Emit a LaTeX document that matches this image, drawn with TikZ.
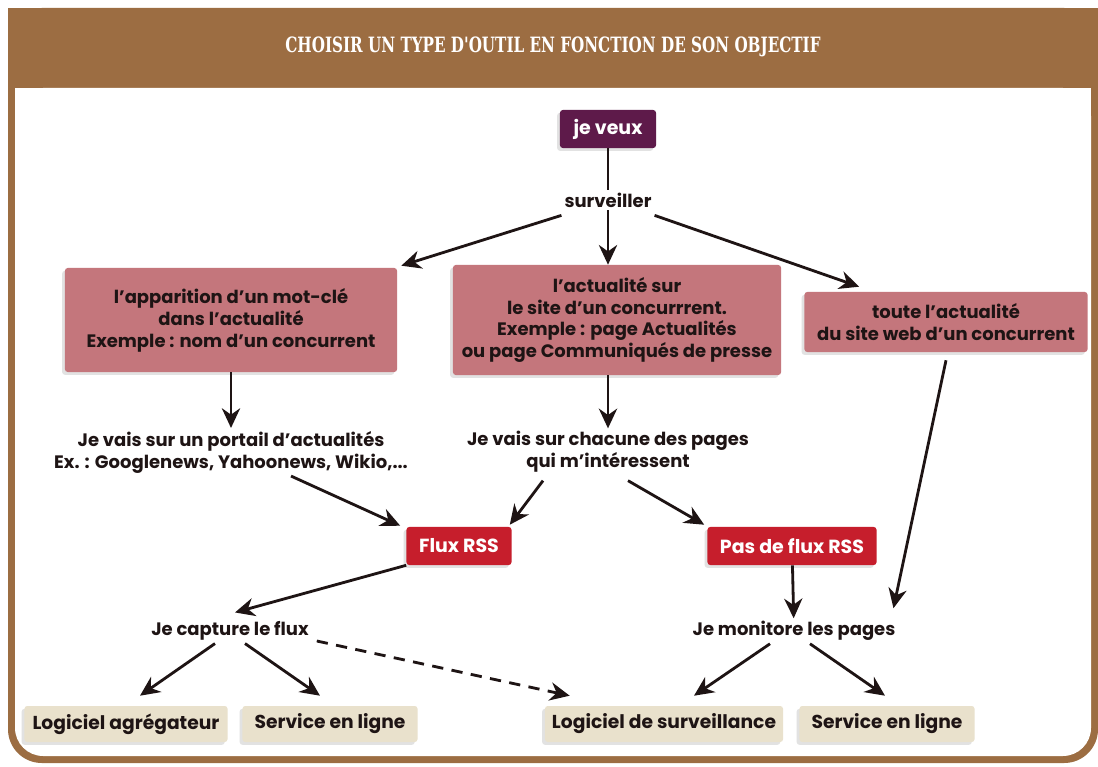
\documentclass[tikz,border=0pt]{standalone}
\usepackage{fontspec}
\setmainfont{Poppins}
\newfontfamily\titrefont{DejaVu Serif}
\usetikzlibrary{arrows.meta,shadows,calc}

\definecolor{cadre}{RGB}{156,109,66}
\definecolor{violet}{RGB}{94,26,74}
\definecolor{rose}{RGB}{196,118,124}
\definecolor{rouge}{RGB}{198,30,44}
\definecolor{beige}{RGB}{233,225,204}
\definecolor{encre}{RGB}{30,20,20}

\tikzset{
  boite/.style={rounded corners=2pt, align=center, inner sep=2pt,
    drop shadow={shadow xshift=-2pt, shadow yshift=-2pt, fill=gray!45}},
  envie/.style={boite, fill=violet, text=white, font=\bfseries\fontsize{13.5}{16}\selectfont,
    minimum width=2.4cm, minimum height=0.95cm},
  cible/.style={boite, fill=rose, text=encre, font=\bfseries\fontsize{12.8}{15.6}\selectfont,
    minimum width=8.3cm},
  flux/.style={boite, fill=rouge, text=white, font=\bfseries\fontsize{13.5}{16}\selectfont,
    minimum height=0.95cm},
  outil/.style={boite, fill=beige, text=encre, font=\bfseries\fontsize{13.3}{16}\selectfont,
    minimum height=0.9cm},
  etape/.style={align=center, text=encre, inner sep=2pt, font=\bfseries\fontsize{12.8}{15.6}\selectfont},
  fleche/.style={-{Stealth[length=14pt,width=13pt]}, line width=2pt, encre},
}

\begin{document}
\begin{tikzpicture}[x=0.025cm,y=-0.025cm]
\useasboundingbox (0,0) rectangle (1098,767);

% cadre et bandeau
\fill[cadre, rounded corners=24] (8,8) -- (1098,8) -- (1098,763) -- (8,763) -- cycle;
\fill[cadre] (8,8) rectangle (1098,60);
\fill[white, rounded corners=20] (15,88) -- (1091,88) -- (1091,756) -- (15,756) -- cycle;
\fill[white] (15,88) rectangle (1091,120);
\node[text=white] (titre) at (553,47) {\scalebox{0.72}[1]{\titrefont\bfseries\fontsize{15}{16}\selectfont CHOISIR UN TYPE D'OUTIL EN FONCTION DE SON OBJECTIF}};

% haut
\node[envie] (veux) at (608,129) {je veux};
\node[etape] (surv) at (608,200) {surveiller};

\node[cible, minimum height=2.6cm] (motcle) at (231,320) {l'apparition d'un mot-clé\\dans l'actualité\\Exemple : nom d'un concurrent};
\node[cible, minimum width=8.2cm, minimum height=2.75cm] (page) at (617,320) {l'actualité sur\\le site d'un concurrrent.\\Exemple : page Actualités\\ou page Communiqués de presse};
\node[cible, minimum width=7.075cm, minimum height=1.5cm] (site) at (946,322) {toute l'actualité\\du site web d'un concurrent};

% milieu
\node[etape] (portail) at (231,452) {Je vais sur un portail d'actualités\\Ex. : Googlenews, Yahoonews, Wikio,...};
\node[etape] (chacune) at (608,452) {Je vais sur chacune des pages\\qui m'intéressent};

\node[flux, minimum width=2.625cm] (rss) at (459,546) {Flux RSS};
\node[flux, minimum width=4.225cm] (norss) at (792,546) {Pas de flux RSS};

\node[etape] (capture) at (230,631) {Je capture le flux};
\node[etape] (monitore) at (794,631) {Je monitore les pages};

% outils
\node[outil, minimum width=5.075cm] (agreg) at (126,724) {Logiciel agrégateur};
\node[outil, minimum width=4.375cm] (servA) at (330,724) {Service en ligne};
\node[outil, minimum width=5.95cm] (logsurv) at (664,724) {Logiciel de surveillance};
\node[outil, minimum width=4.375cm] (servB) at (887,724) {Service en ligne};

% liaisons
\draw[line width=2pt, encre] (veux) -- (surv);
\draw[fleche] ($(surv.south west)+(0,5)$) -- ($(motcle.north east)+(4,-2)$);
\draw[fleche] (surv) -- (surv |- page.north);
\draw[fleche] ($(surv.south east)+(0,5)$) -- ($(site.north west)+(55,-5)$);

\draw[fleche] (motcle) -- (portail);
\draw[fleche] (page.south -| chacune) -- (chacune);
\draw[fleche] ($(site.south)+(0,8)$) -- ($(monitore.north east)+(-5,-10)$);

\draw[fleche] ($(portail.south)+(60,0)$) -- ($(rss.north west)+(-6,-1)$);
\draw[fleche] ($(chacune.south)+(-65,5)$) -- ($(rss.north east)+(-2,-2)$);
\draw[fleche] ($(chacune.south)+(20,5)$) -- ($(norss.north west)+(-3,-2)$);

\draw[fleche] (rss.south west) -- ($(capture.north)+(5,-6)$);
\draw[fleche] (norss) -- (monitore);

\draw[fleche] ($(capture.south)+(-15,0)$) -- ($(agreg.north)+(14,-10)$);
\draw[fleche] ($(capture.south)+(15,0)$) -- ($(servA.north)+(-10,-10)$);
\draw[fleche, dash pattern=on 8pt off 6pt] ($(capture.east)+(5,10)$) -- ($(logsurv.north west)+(25,-10)$);
\draw[fleche] ($(monitore.south)+(-24,0)$) -- ($(logsurv.north)+(30,-10)$);
\draw[fleche] ($(monitore.south)+(16,0)$) -- ($(servB.north)+(-2,-10)$);
\end{tikzpicture}
\end{document}
